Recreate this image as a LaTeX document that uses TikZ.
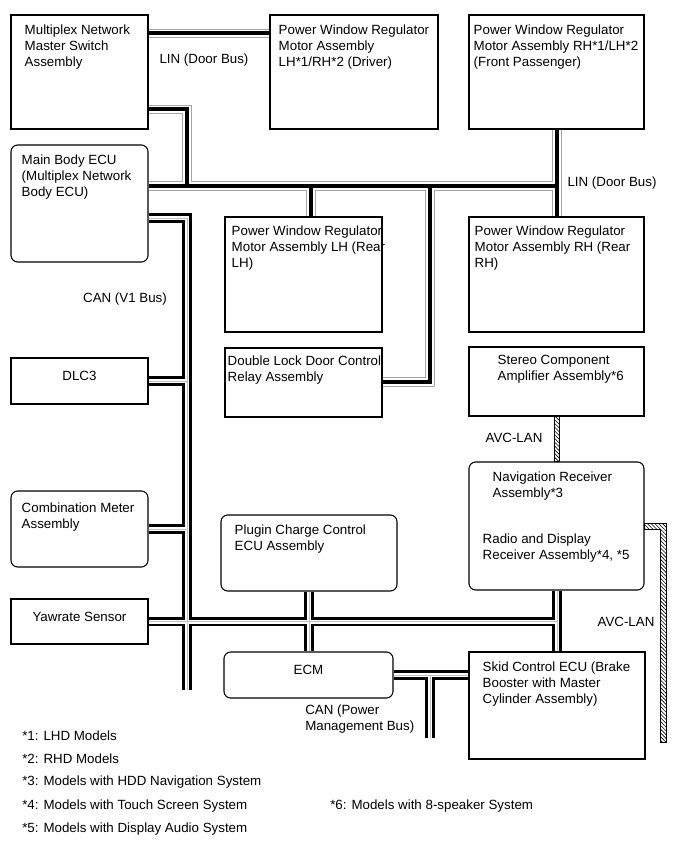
\documentclass[tikz,border=0pt]{standalone}
\usepackage{fontspec}
\setmainfont{Liberation Sans}
\usepackage{tikz}
\usetikzlibrary{fit,backgrounds,patterns.meta}

\begin{document}
\begin{tikzpicture}[x=0.75pt, y=-0.75pt,
  box/.style={draw, line width=0.8pt, inner sep=0pt, font=\fontsize{10}{12}\selectfont},
  rbox/.style={box, rounded corners=5pt},
  txt/.style={anchor=north west, inner sep=0pt, align=left, font=\fontsize{10}{12}\selectfont},
  lbl/.style={inner sep=0pt, font=\fontsize{10}{12}\selectfont},
  lin/.style={draw=black!35, line width=6.8pt,
    postaction={draw=white, line width=5.6pt},
    postaction={draw=black, line width=3pt}},
  can/.style={draw=black, line width=6.8pt,
    postaction={draw=white, line width=3pt},
    postaction={draw=black!25, line width=0.4pt}},
  avc/.style={draw, line width=0.5pt, pattern={Lines[angle=-45,distance=2pt,line width=0.45pt]}}]
\useasboundingbox (0,0) rectangle (689,853);
%% --- units (px of the sheet, y down) ---
%% --- door side ---
\node[box, fit={(11,15) (148,129)}] (msw) {};
\node[box, fit={(270,15) (438,129)}] (drv) {};
\node[box, fit={(469,15) (644,129)}] (pas) {};
\node[rbox, fit={(11,145) (148,262)}] (mbe) {};
\node[box, fit={(225,217) (382,332)}] (rlh) {};
\node[box, fit={(469,217) (644,332)}] (rrh) {};
\node[box, fit={(225,348) (382,417)}] (dbl) {};
\node[box, fit={(469,347) (644,416)}] (ste) {};
%% --- CAN side ---
\node[box, fit={(11,358) (148,404)}] (dlc) {DLC3};
\node[rbox, fit={(11,491) (148,567)}] (cmb) {};
\node[rbox, fit={(469,462) (644,590)}] (nav) {};
\node[rbox, fit={(221,515) (397,591)}] (plg) {};
\node[box, fit={(11,599) (148,644)}] (yaw) {Yawrate Sensor};
\node[rbox, fit={(224,652) (393,698)}] (ecm) {ECM};
\node[box, fit={(469,652) (645,759)}] (skd) {};
%% --- box texts ---
\node[txt] (msw-t) at ([shift={(14,10)}]msw.north west) {Multiplex Network\\Master Switch\\Assembly};
\node[txt] (drv-t) at ([shift={(9,10)}]drv.north west) {Power Window Regulator\\Motor Assembly\\LH*1/RH*2 (Driver)};
\node[txt] (pas-t) at ([shift={(5,10)}]pas.north west) {Power Window Regulator\\Motor Assembly RH*1/LH*2\\(Front Passenger)};
\node[txt] (mbe-t) at ([shift={(11,10)}]mbe.north west) {Main Body ECU\\(Multiplex Network\\Body ECU)};
\node[txt] (rlh-t) at ([shift={(7,9)}]rlh.north west) {Power Window Regulator\\Motor Assembly LH (Rear\\LH)};
\node[txt] (rrh-t) at ([shift={(6,9)}]rrh.north west) {Power Window Regulator\\Motor Assembly RH (Rear\\RH)};
\node[txt] (dbl-t) at ([shift={(3,8)}]dbl.north west) {Double Lock Door Control\\Relay Assembly};
\node[txt] (ste-t) at ([shift={(29,8)}]ste.north west) {Stereo Component\\Amplifier Assembly*6};
\node[txt] (nav-t) at ([shift={(24,10)}]nav.north west) {Navigation Receiver\\Assembly*3};
\node[txt] (rad-t) at ([shift={(14,72)}]nav.north west) {Radio and Display\\Receiver Assembly*4, *5};
\node[txt] (cmb-t) at ([shift={(11,12)}]cmb.north west) {Combination Meter\\Assembly};
\node[txt] (plg-t) at ([shift={(14,10)}]plg.north west) {Plugin Charge Control\\ECU Assembly};
\node[txt] (skd-t) at ([shift={(14,10)}]skd.north west) {Skid Control ECU (Brake\\Booster with Master\\Cylinder Assembly)};
%% --- bus names ---
\node[lbl] (lin1) at (204,60) {LIN (Door Bus)};
\node[lbl] (lin2) at (612,183) {LIN (Door Bus)};
\node[lbl] (v1) at (125,299) {CAN (V1 Bus)};
\node[txt] (pmb) at (305,705) {CAN (Power\\Management Bus)};
\node[lbl] (avc1) at (514,438) {AVC-LAN};
\node[lbl] (avc2) at (626,622) {AVC-LAN};
%% --- notes ---
\node[lbl, anchor=west] (n1) at (22,736) {*1: LHD Models};
\node[lbl, anchor=west] (n2) at (22,759) {*2: RHD Models};
\node[lbl, anchor=west] (n3) at (22,782) {*3: Models with HDD Navigation System};
\node[lbl, anchor=west] (n4) at (22,806) {*4: Models with Touch Screen System};
\node[lbl, anchor=west] (n5) at (22,829) {*5: Models with Display Audio System};
\node[lbl, anchor=west] (n6) at (330,806) {*6: Models with 8-speaker System};
\begin{pgfonlayer}{background}
%% --- LIN (door bus) ---
\coordinate (linA) at (187,186);
\coordinate (linB) at (311,186);
\coordinate (linC) at (430,186);
\coordinate (linD) at (557,186);
\coordinate (linE) at (430,382);
\draw[lin] ([shift={(0,19)}]msw.north east) -- ([shift={(0,19)}]drv.north west)
  ([shift={(0,95)}]msw.north east) -| (linA)
  (mbe.east |- linA) -- (linD)
  (pas.south -| linD) -- (rrh.north -| linD)
  (linB) -- (rlh.north -| linB)
  (linC) -- (linE) -- (dbl.east |- linE);
%% --- CAN (V1 bus) and CAN (power management bus) ---
\coordinate (canA) at (187,218);
\coordinate (canB) at (187,690);
\coordinate (canC) at (557,621);
\coordinate (pmA) at (430,675);
\coordinate (pmB) at (430,738);
\draw[can] (mbe.east |- canA) -- (canA) -- (canB)
  (dlc.east) -- (dlc.east -| canA)
  (cmb.east) -- (cmb.east -| canA)
  (yaw.east) -- (yaw.east -| canC)
  (plg.south) -- (plg.south |- ecm.north)
  (nav.south -| canC) -- (skd.north -| canC)
  (ecm.east) -- (ecm.east -| skd.west)
  (pmA) -- (pmB);
%% --- AVC-LAN ---
\path[avc] ([shift={(-2.5,0)}]ste.south) rectangle ([shift={(2.5,0)}]nav.north);
\path[avc] ([shift={(0,-3)}]nav.east) -- ++(22,0) -- ++(0,219) -- ++(-6,0)
  -- ++(0,-213) -- ([shift={(0,3)}]nav.east) -- cycle;
\end{pgfonlayer}
\end{tikzpicture}
\end{document}
